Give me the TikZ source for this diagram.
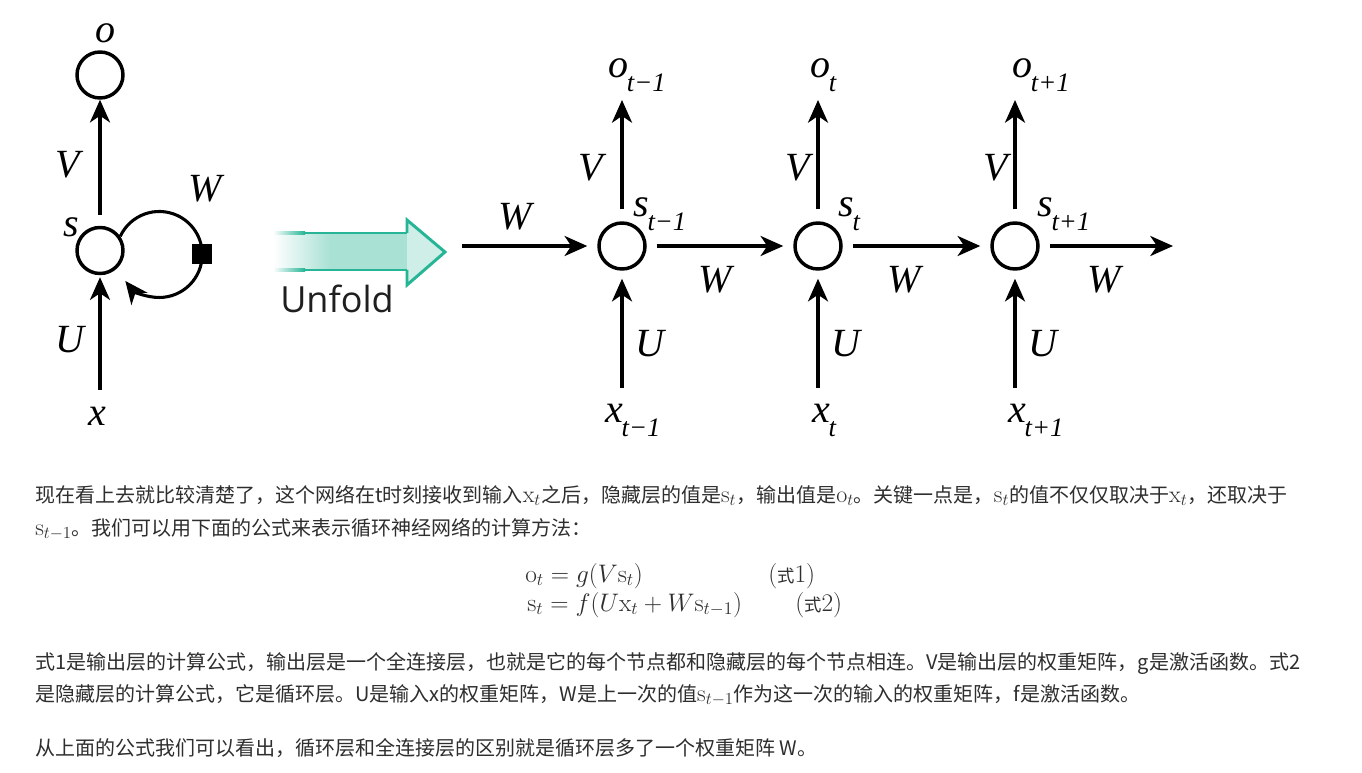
\RequirePackage{fix-cm}
\documentclass[tikz,border=0pt]{standalone}
\usepackage{amsmath}
\usepackage[no-math]{fontspec}
\newfontfamily\cjk{Noto Sans CJK SC}
\newfontfamily\labfont{Liberation Serif}
\newfontfamily\uifont{Open Sans}
\usepackage{xcolor}
\usetikzlibrary{arrows.meta,positioning,calc}

\definecolor{unfoldline}{RGB}{38,181,150}
\definecolor{unfoldfill}{RGB}{170,225,213}
\definecolor{unfoldhead}{RGB}{206,238,231}
\definecolor{bodytext}{RGB}{46,46,46}

% label with a lowered index, as in the figure
\newcommand\tlab[2]{#1\kern-1pt\raisebox{-10.5pt}{\fontsize{20}{20}\selectfont#2}}
% inline math inside the Chinese text
\newcommand\im[1]{{\fontsize{18}{20}\selectfont$#1$}}

\tikzset{
  unit/.style={circle,draw,line width=2.6pt,minimum size=34.5pt,inner sep=0pt},
  arr/.style={-{Stealth[length=17pt,width=15pt,inset=5pt]},line width=2.6pt},
  lab/.style={font=\labfont\itshape\fontsize{30}{30}\selectfont,inner sep=0pt,anchor=base west},
  gatebox/.style={rectangle,fill=black,minimum size=15pt,inner sep=0pt},
  para/.style={font=\cjk\fontsize{15}{20}\selectfont,text=bodytext,inner sep=0pt,anchor=base west},
  eqn/.style={font=\fontsize{19}{22}\selectfont,text=bodytext,inner sep=0pt,anchor=base west}
}

\begin{document}
\begin{tikzpicture}[x=0.75pt,y=0.75pt,>=Stealth]
  \fill[white] (0,0) rectangle (1362,772);
  \useasboundingbox (0,0) rectangle (1362,772);

  % folded network
  \node[unit] (o) at (100,697) {};
  \node[unit] (s) at (100,521.5) {};
  \coordinate (xin) at (100,382);
  \draw[arr,shorten <=8pt] (s.north) -- (o.south);
  \draw[arr,shorten >=1.5pt] (xin) -- (s.south);
  \draw[arr,line width=2.3pt] (s.35) arc[start angle=155,end angle=0,radius=43]
     node[gatebox] (gate) {} arc[start angle=0,end angle=-142,radius=43];
  \node[lab] (ol) at (95,729) {o};
  \node[lab] (vl) at (55,594) {V};
  \node[lab] (sl) at (63,535) {s};
  \node[lab] (wl) at (188,570) {W};
  \node[lab] (ul) at (55,420) {U};
  \node[lab] (xl) at (88,347) {x};

  % unfold arrow
  \shade[left color=white,right color=unfoldfill] (273,502) rectangle (330,539);
  \fill[unfoldfill] (330,502) rectangle (407,539);
  \shade[left color=white,right color=unfoldline] (273,500.5) rectangle (305,503.5);
  \shade[left color=white,right color=unfoldline] (273,537.5) rectangle (305,540.5);
  \draw[unfoldline,line width=2.2pt] (305,502) -- (407,502) (305,539) -- (407,539);
  \filldraw[fill=unfoldhead,draw=unfoldline,line width=2.2pt,line join=miter]
     (407,539) -- (407,552) -- (445,520) -- (407,487) -- (407,502);
  \node[font=\uifont\fontsize{27}{27}\selectfont,text=black!88,inner sep=0pt,anchor=base west] (unfold) at (280,459) {Unfold};

  % unfolded network
  \foreach \i/\x in {1/622,2/818,3/1015}
     {\node[unit] (s\i) at (\x,526) {};
      \coordinate (in\i) at (\x,384);
      \coordinate (out\i) at (\x,672);
      \draw[arr,shorten <=9pt] (s\i.north) -- (out\i);
      \draw[arr,shorten >=6pt] (in\i) -- (s\i.south);}
  \coordinate (win) at (462,526);
  \coordinate (wout) at (1173,526);
  \draw[arr,shorten >=7.5pt] (win) -- (s1.west);
  \draw[arr,shorten <=7.5pt,shorten >=7.5pt] (s1.east) -- (s2.west);
  \draw[arr,shorten <=7.5pt,shorten >=7.5pt] (s2.east) -- (s3.west);
  \draw[arr,shorten <=7.5pt] (s3.east) -- (wout);
  \node[lab] (w0) at (498,542) {W};
  \foreach \i/\x/\sub/\ox/\sx/\xx/\vx/\wx in
     {1/622/{t−1}/-14/11/-17/-44/76,2/818/t/-8/20/-6/-33/69,3/1015/{t+1}/-3/22/-7/-32/72}
     {\node[lab] (o\i) at (\x+\ox,694) {\tlab{o}{\sub}};
      \node[lab] (sl\i) at (\x+\sx,555) {\tlab{s}{\sub}};
      \node[lab] (x\i) at (\x+\xx,350) {\tlab{x}{\sub}};
      \node[lab] (v\i) at (\x+\vx,591) {V};
      \node[lab] (u\i) at (\x+13,416) {U};
      \node[lab] (w\i) at (\x+\wx,479) {W};}

  % text below the figure
  \node[para] (p1a) at (35,270) {现在看上去就比较清楚了，这个网络在t时刻接收到输入\im{\mathrm{x}_t}之后，隐藏层的值是\im{\mathrm{s}_t}，输出值是\im{\mathrm{o}_t}。关键一点是，\im{\mathrm{s}_t}的值不仅仅取决于\im{\mathrm{x}_t}，还取决于};
  \node[para] (p1b) at (35,237) {\im{\mathrm{s}_{t-1}}。我们可以用下面的公式来表示循环神经网络的计算方法：};
  \node[eqn] (eq1) at (525,190) {$\mathrm{o}_t = g(V\mathrm{s}_t)$};
  \node[eqn] (tag1) at (768,190) {$(\mbox{\cjk\fontsize{13}{13}\selectfont 式}1)$};
  \node[eqn] (eq2) at (527,161) {$\mathrm{s}_t = f(U\mathrm{x}_t + W\mathrm{s}_{t-1})$};
  \node[eqn] (tag2) at (795,161) {$(\mbox{\cjk\fontsize{13}{13}\selectfont 式}2)$};
  \node[para] (p2a) at (35,103) {式1是输出层的计算公式，输出层是一个全连接层，也就是它的每个节点都和隐藏层的每个节点相连。V是输出层的权重矩阵，g是激活函数。式2};
  \node[para] (p2b) at (35,71) {是隐藏层的计算公式，它是循环层。U是输入x的权重矩阵，W是上一次的值\im{\mathrm{s}_{t-1}}作为这一次的输入的权重矩阵，f是激活函数。};
  \node[para] (p3) at (35,17) {从上面的公式我们可以看出，循环层和全连接层的区别就是循环层多了一个权重矩阵 W。};
\end{tikzpicture}
\end{document}
